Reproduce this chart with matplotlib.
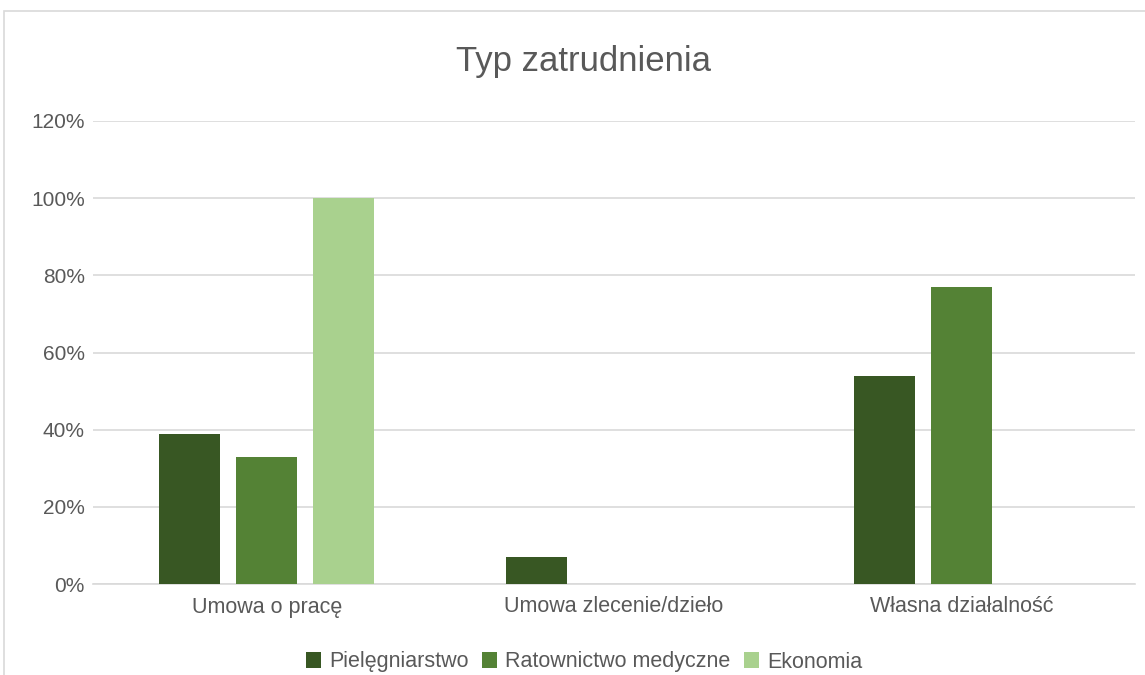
import matplotlib.pyplot as plt
import numpy as np
from matplotlib.patches import Rectangle
from matplotlib.ticker import PercentFormatter

# Data (percent)
categories = ['Umowa o pracę', 'Umowa zlecenie/dzieło', 'Własna działalność']
series_names = ['Pielęgniarstwo', 'Ratownictwo medyczne', 'Ekonomia']
pielegniarstwo = [39, 7, 54]
ratownictwo = [33, 0, 77]
ekonomia = [100, 0, 0]

COLORS = ['#385723', '#548235', '#A9D18E']
TEXT = '#595959'

plt.rcParams['font.family'] = ['Liberation Sans', 'DejaVu Sans']

fig = plt.figure(figsize=(11.45, 6.75), dpi=100)
ax = fig.add_axes([93 / 1145, 1 - 584 / 675, (1135 - 93) / 1145, (584 - 121) / 675])

# chart border (cropped at right/bottom like the original)
fig.patches.append(Rectangle((4 / 1145, -0.1), 1.2, 1 - 11 / 675 + 0.1,
                             transform=fig.transFigure, fill=False,
                             edgecolor='#D9D9D9', linewidth=1.2))

x = np.arange(len(categories))
width = 0.176
step = 0.222
for i, (vals, name) in enumerate(zip([pielegniarstwo, ratownictwo, ekonomia], series_names)):
    ax.bar(x + (i - 1) * step, vals, width, color=COLORS[i], label=name, zorder=3)

ax.set_xlim(-0.5, 2.5)
ax.set_ylim(0, 120)
ax.set_yticks(np.arange(0, 121, 20))
ax.yaxis.set_major_formatter(PercentFormatter(decimals=0))
ax.set_xticks(x)
ax.set_xticklabels(categories)
ax.grid(axis='y', color='#D9D9D9', linewidth=1.2, zorder=0)
for s in ['top', 'right', 'left']:
    ax.spines[s].set_visible(False)
ax.spines['bottom'].set_color('#D9D9D9')
ax.spines['bottom'].set_linewidth(1.2)
ax.tick_params(axis='both', length=0, colors=TEXT)
ax.tick_params(axis='y', pad=6, labelsize=15)
ax.tick_params(axis='x', pad=9, labelsize=15.5)

fig.text(584 / 1145, 1 - 62 / 675, 'Typ zatrudnienia', ha='center', va='center',
         fontsize=25, color=TEXT)

fig.legend(loc='center', bbox_to_anchor=(584 / 1145, 1 - 662 / 675), ncol=3,
           frameon=False, fontsize=15.5, labelcolor=TEXT, handlelength=0.7,
           handleheight=0.7, handletextpad=0.4, columnspacing=0.6)

plt.savefig('out.png', dpi=100)
